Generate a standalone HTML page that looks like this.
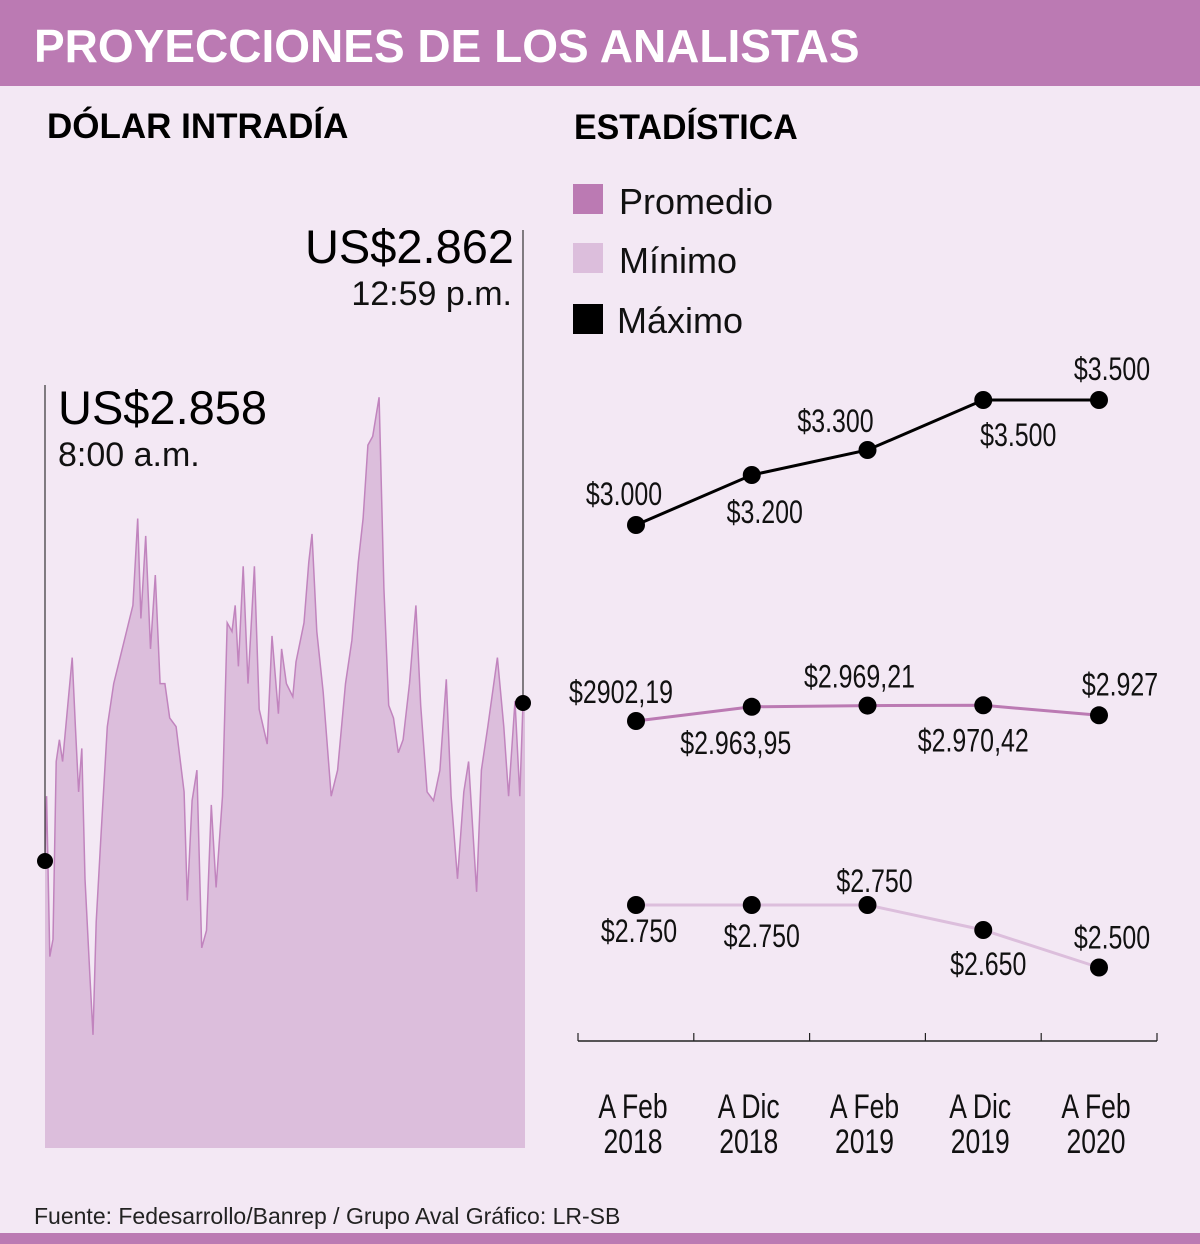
<!DOCTYPE html>
<html><head><meta charset="utf-8"><style>
html,body{margin:0;padding:0}
body{width:1200px;height:1244px;background:#f3e8f4;overflow:hidden;font-family:"Liberation Sans",sans-serif}
svg{display:block}
</style></head><body>
<svg id="chart" width="1200" height="1244" viewBox="0 0 1200 1244">
<rect x="0" y="0" width="1200" height="86" fill="#bb7ab3"/>
<text x="34" y="62" font-size="46" font-weight="bold" fill="#fff">PROYECCIONES DE LOS ANALISTAS</text>
<text x="47" y="138" font-size="35" font-weight="bold" fill="#000">DÓLAR INTRADÍA</text>
<text x="574" y="139" font-size="35" font-weight="bold" fill="#000" transform="translate(574 0) scale(0.97 1) translate(-574 0)">ESTADÍSTICA</text>
<g>
<rect x="573" y="184" width="30" height="30" fill="#bb7ab3"/>
<text x="619" y="214" font-size="36" fill="#111">Promedio</text>
<rect x="573" y="243" width="30" height="30" fill="#dcbedc"/>
<text x="619" y="273" font-size="36" fill="#111">Mínimo</text>
<rect x="573" y="304" width="30" height="30" fill="#000"/>
<text x="617" y="333" font-size="36" fill="#111">Máximo</text>
</g>
<g id="intraday"></g>
<g id="stats"></g>
<text x="34" y="1224" font-size="23" fill="#222">Fuente: Fedesarrollo/Banrep / Grupo Aval  Gráfico: LR-SB</text>
<rect x="0" y="1233" width="1200" height="11" fill="#bb7ab3"/>
</svg>
<script>
// Intraday data: minutes since 8:00 and price
const minutes=[0,1,3,5,7,9,11,14,17,19,21,23,25,28,30,32,35,39,43,47,51,55,58,60,63,66,69,72,75,78,82,87,89,92,95,98,101,104,107,111,114,117,119,121,124,127,131,134,139,142,146,148,151,155,157,162,165,167,170,174,179,183,188,192,196,199,202,205,209,212,215,218,221,224,228,232,235,239,243,247,251,254,258,262,265,270,273,277,283,287,290,294,297,299];
const prices=[2858.0,2859.64,2855.58,2856.02,2860.52,2861.07,2860.52,2861.84,2863.15,2861.40,2859.75,2860.85,2857.55,2855.14,2853.60,2856.46,2858.65,2861.40,2862.49,2863.15,2863.81,2864.47,2866.67,2864.14,2866.23,2863.37,2865.24,2862.49,2862.49,2861.62,2861.40,2859.75,2857.00,2859.53,2860.30,2855.80,2856.24,2859.42,2857.33,2859.64,2864.03,2863.81,2864.47,2862.93,2865.46,2862.49,2865.46,2861.84,2860.96,2863.70,2861.73,2863.37,2862.49,2862.16,2863.04,2864.03,2865.57,2866.28,2863.81,2862.27,2859.64,2860.30,2862.49,2863.59,2865.57,2866.67,2868.53,2868.75,2869.74,2864.91,2861.94,2861.62,2860.74,2861.07,2862.49,2864.47,2861.94,2859.75,2859.53,2860.30,2862.60,2859.64,2857.55,2859.75,2860.52,2857.22,2860.30,2861.40,2863.15,2861.40,2859.64,2862.05,2859.64,2862.0];
const openLabel=["US$2.858","8:00 a.m."];
const closeLabel=["US$2.862","12:59 p.m."];

// Statistics data
const periods=[["A Feb","2018"],["A Dic","2018"],["A Feb","2019"],["A Dic","2019"],["A Feb","2020"]];
const maximo=[3000,3200,3300,3500,3500];
const maximoLabels=["$3.000","$3.200","$3.300","$3.500","$3.500"];
const promedio=[2902.19,2963.95,2969.21,2970.42,2927];
const promedioLabels=["$2902,19","$2.963,95","$2.969,21","$2.970,42","$2.927"];
const minimo=[2750,2750,2750,2650,2500];
const minimoLabels=["$2.750","$2.750","$2.750","$2.650","$2.500"];

const NS="http://www.w3.org/2000/svg";
function mk(tag,attrs,parent){const e=document.createElementNS(NS,tag);for(const k in attrs)e.setAttribute(k,attrs[k]);parent.appendChild(e);return e;}

// intraday axes
const ix=t=>45+t*(478/299);
const iy=v=>861-(v-2858)*39.5;
const g1=document.getElementById('intraday');
let d=`M${ix(minutes[0])},1148`;
minutes.forEach((t,i)=>{d+=` L${ix(t).toFixed(1)},${iy(prices[i]).toFixed(1)}`;});
d+=` L525,${iy(prices[prices.length-1]).toFixed(1)} L525,1148 Z`;
const area=mk('path',{d:d,fill:'#dcbedc',stroke:'none'},g1);


let ld='';
minutes.forEach((t,i)=>{ld+=(i?' L':'M')+ix(t).toFixed(1)+','+iy(prices[i]).toFixed(1);});
const line=mk('path',{d:ld,fill:'none',stroke:'#c184be','stroke-width':1.5},g1);


const x0=ix(minutes[0]),y0=iy(prices[0]);
const x1=ix(minutes[minutes.length-1]),y1=iy(prices[prices.length-1]);
const l0=mk('line',{x1:x0,y1:385,x2:x0,y2:y0,stroke:'#333','stroke-width':1.2},g1);


const l1=mk('line',{x1:x1,y1:230,x2:x1,y2:y1,stroke:'#333','stroke-width':1.2},g1);


const c0=mk('circle',{cx:x0,cy:y0,r:8,fill:'#000'},g1);


const c1=mk('circle',{cx:x1,cy:y1,r:8,fill:'#000'},g1);


let t=mk('text',{x:58,y:424,'font-size':47,fill:'#000'},g1);t.textContent=openLabel[0];


t=mk('text',{x:58,y:466,'font-size':34,fill:'#111'},g1);t.textContent=openLabel[1];


t=mk('text',{x:514,y:263,'font-size':47,fill:'#000','text-anchor':'end'},g1);t.textContent=closeLabel[0];


t=mk('text',{x:512,y:305,'font-size':34,fill:'#111','text-anchor':'end'},g1);t.textContent=closeLabel[1];



// statistics chart
const g2=document.getElementById('stats');
const sx=i=>636+i*115.75;
const yMax=v=>525-(v-3000)*0.25;
const yProm=v=>721-(v-2902.19)*0.23;
const yMin=v=>905-(v-2750)*0.25;
// label offsets (style only)
const offMax=[[-12,-20],[13,48],[-32,-18],[35,46],[13,-20]];
const offProm=[[-15,-18],[-16,47],[-8,-18],[-10,46],[21,-20]];
const offMin=[[3,37],[10,42],[7,-13],[5,45],[13,-19]];
function cond(el,x){el.setAttribute('transform',`translate(${x} 0) scale(0.78 1) translate(${-x} 0)`);}
function series(vals,labels,yf,color,offs,name){
  let p='';vals.forEach((v,i)=>{p+=(i?' L':'M')+sx(i)+','+yf(v).toFixed(1);});
  const pl=mk('path',{d:p,fill:'none',stroke:color,'stroke-width':3},g2);
  
  
  vals.forEach((v,i)=>{
    const c=mk('circle',{cx:sx(i),cy:yf(v),r:9,fill:'#000'},g2);
    
    
    const tx=sx(i)+offs[i][0];
    const tt=mk('text',{x:tx,y:yf(v)+offs[i][1],'font-size':32,fill:'#111','text-anchor':'middle'},g2);
    tt.textContent=labels[i];cond(tt,tx);
    
    
  });
}
series(maximo,maximoLabels,yMax,'#000',offMax,'maximo');
series(promedio,promedioLabels,yProm,'#bb7ab3',offProm,'promedio');
series(minimo,minimoLabels,yMin,'#dcbedc',offMin,'minimo');
const ax=mk('line',{x1:578,y1:1041,x2:1157,y2:1041,stroke:'#222','stroke-width':1.5},g2);


for(let i=0;i<=periods.length;i++){
  const x=578+i*115.8;
  const tk=mk('line',{x1:x,y1:1033,x2:x,y2:1041,stroke:'#222','stroke-width':1.2},g2);
  
  
}
periods.forEach((p,i)=>{
  const cx=sx(i)-3;
  const a=mk('text',{x:cx,y:1118,'font-size':34,fill:'#111','text-anchor':'middle'},g2);a.textContent=p[0];cond(a,cx);
  
  
  const b=mk('text',{x:cx,y:1153,'font-size':34,fill:'#111','text-anchor':'middle'},g2);b.textContent=p[1];cond(b,cx);
  
  
});
</script>
</body></html>
